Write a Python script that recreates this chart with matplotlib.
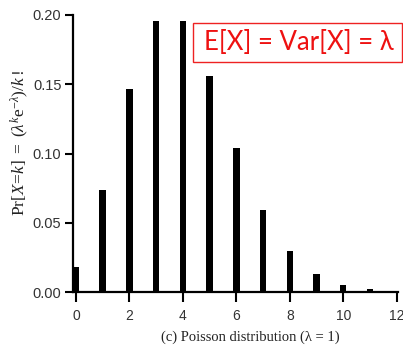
import matplotlib
matplotlib.use("Agg")
import matplotlib.pyplot as plt
from matplotlib.patches import Rectangle

# Data
k_values = [0, 1, 2, 3, 4, 5, 6, 7, 8, 9, 10, 11, 12]
probabilities = [0.0183, 0.0733, 0.1465, 0.1954, 0.1954, 0.1563, 0.1042,
                 0.0595, 0.0298, 0.0132, 0.0053, 0.0019, 0.0006]
x_ticks = [0, 2, 4, 6, 8, 10, 12]
y_ticks = [0.00, 0.05, 0.10, 0.15, 0.20]
y_tick_labels = ["0.00", "0.05", "0.10", "0.15", "0.20"]
ylabel_text = r'$\mathrm{Pr}[X\!=\!k]\ =\ (\lambda^{k}\mathrm{e}^{-\lambda})/k\,!$'
xlabel_text = "(c) Poisson distribution (\u03bb = 1)"
box_text = "E[X] = Var[X] = \u03bb"

plt.rcParams['mathtext.fontset'] = 'custom'
plt.rcParams['mathtext.rm'] = 'Liberation Serif'
plt.rcParams['mathtext.it'] = 'Liberation Serif:italic'

W, H = 403, 348
fig = plt.figure(figsize=(W / 100, H / 100), dpi=100)
fig.patch.set_facecolor('white')
ax = fig.add_axes([72.5 / W, 1 - 292 / H, (398 - 72.5) / W, (292 - 15) / H])

ax.bar(k_values, probabilities, width=0.24, color='black', zorder=3)

ax.set_xlim(-0.13, 12.05)
ax.set_ylim(0, 0.2)
ax.set_xticks(x_ticks)
ax.set_xticklabels([str(t) for t in x_ticks])
ax.set_yticks(y_ticks)
ax.set_yticklabels(y_tick_labels)

for s in ['top', 'right']:
    ax.spines[s].set_visible(False)
for s in ['left', 'bottom']:
    ax.spines[s].set_linewidth(1.6)
    ax.spines[s].set_color('black')

ax.tick_params(axis='x', direction='out', length=7.5, width=1.5, pad=5,
               labelsize=10, labelcolor='#333333')
ax.tick_params(axis='y', direction='out', length=6, width=1.5, pad=2,
               labelsize=10.5, labelcolor='#333333')
for lab in ax.get_xticklabels() + ax.get_yticklabels():
    lab.set_family('Liberation Sans')

fig.text(20 / W, 1 - 142.5 / H, ylabel_text, rotation=90, ha='center', va='center',
         fontsize=12.5, color='#222222')
fig.text(250 / W, 1 - 337 / H, xlabel_text, ha='center', va='center',
         fontsize=10.5, family='Liberation Serif', color='#222222')

rect = Rectangle((193 / W, 1 - 62.3 / H), (402 - 193) / W, (62.3 - 22.7) / H,
                 transform=fig.transFigure, facecolor='white', edgecolor='#ee2222',
                 linewidth=1.0, zorder=10)
fig.patches.append(rect)
fig.text(299 / W, 1 - 43 / H, box_text, ha='center', va='center', fontsize=18.5,
         family='Lato', color='#ee1111', zorder=11)

fig.savefig('out.png', dpi=100)
